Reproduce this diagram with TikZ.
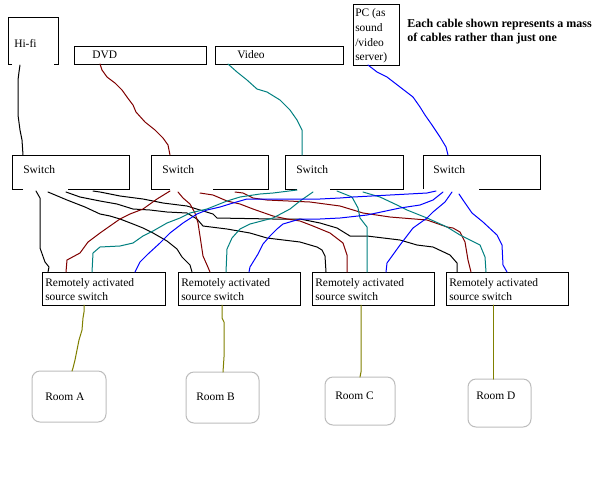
\documentclass[tikz,border=0pt]{standalone}
\usepackage{fontspec}
\setmainfont{Liberation Serif}
\usetikzlibrary{calc}
\definecolor{dred}{HTML}{800000}
\definecolor{dteal}{HTML}{008080}
\definecolor{dblue}{HTML}{0000FF}
\definecolor{olivec}{HTML}{808000}
\definecolor{roomgray}{HTML}{BDBDBD}
\begin{document}
\begin{tikzpicture}[x=0.75pt,y=-0.75pt,
  box/.style={draw, line width=0.75pt, inner sep=0pt, outer sep=0pt, anchor=north west},
  openbox/.style={inner sep=0pt, outer sep=0pt, anchor=north west},
  outline/.style={line width=0.75pt, line join=miter},
  room/.style={draw=roomgray, line width=0.75pt, rounded corners=6pt, inner sep=0pt, outer sep=0pt, anchor=north west},
  lbl/.style={inner sep=0pt, anchor=west, font=\fontsize{8.6pt}{10.5pt}\selectfont, align=left},
  cable/.style={line width=0.75pt, line join=round, line cap=round},
  blk/.style={cable, black},
  red/.style={cable, dred},
  tl/.style={cable, dteal},
  bl/.style={cable, dblue},
  ol/.style={cable, olivec}]
\useasboundingbox[fill=white] (0,0) rectangle (600,480);

% sources
\node[openbox, minimum width={50*0.75pt}, minimum height={47*0.75pt}] (hifi) at (8,17) {};
\node[box, minimum width={132*0.75pt}, minimum height={18*0.75pt}] (dvd) at (74,46) {};
\node[box, minimum width={128*0.75pt}, minimum height={18*0.75pt}] (video) at (215,46) {};
\node[box, minimum width={46*0.75pt}, minimum height={61*0.75pt}] (pc) at (353,4) {};
\draw[outline] ([xshift=3pt]hifi.south west) -- (hifi.south west) -- (hifi.north west) -- (hifi.north east) -- (hifi.south east) -- ([xshift=-3pt]hifi.south east);

\node[lbl] (thifi) at (14,43) {Hi-fi};
\node[lbl] (tdvd) at (92,55) {DVD};
\node[lbl] (tvideo) at (237,55) {Video};
\node[lbl, font=\fontsize{8.6pt}{11pt}\selectfont] (tpc) at (355,36) {PC (as\\sound\\/video\\server)};
\node[inner sep=0pt, anchor=west, align=left, font=\fontsize{9pt}{10.5pt}\selectfont\bfseries] (note) at (407,32) {Each cable shown represents a mass\\of cables rather than just one};

% switches
\node[openbox, minimum width={117*0.75pt}, minimum height={34*0.75pt}] (sw1) at (12,155) {};
\node[openbox, minimum width={117*0.75pt}, minimum height={34*0.75pt}] (sw2) at (151,155) {};
\node[openbox, minimum width={118*0.75pt}, minimum height={34*0.75pt}] (sw3) at (285,155) {};
\node[openbox, minimum width={117*0.75pt}, minimum height={34*0.75pt}] (sw4) at (423,155) {};
\draw[outline] ([xshift=8.25pt]sw1.south west) -- (sw1.south west) -- (sw1.north west) -- (sw1.north east) -- (sw1.south east) -- ([xshift=-45.75pt]sw1.south east);
\draw[outline] ([xshift=14.25pt]sw2.south west) -- (sw2.south west) -- (sw2.north west) -- (sw2.north east) -- (sw2.south east) -- ([xshift=-41.25pt]sw2.south east);
\draw[outline] ([xshift=9pt]sw3.south west) -- (sw3.south west) -- (sw3.north west) -- (sw3.north east) -- (sw3.south east) -- ([xshift=-54.75pt]sw3.south east);
\draw[outline] (sw4.south west) -- (sw4.north west) -- (sw4.north east) -- (sw4.south east) -- ([xshift=-45.75pt]sw4.south east);
\node[lbl] (tsw1) at (23,170) {Switch};
\node[lbl] (tsw2) at (162,170) {Switch};
\node[lbl] (tsw3) at (296,170) {Switch};
\node[lbl] (tsw4) at (433,170) {Switch};

% remote switches
\node[box, minimum width={123*0.75pt}, minimum height={33*0.75pt}] (r1) at (42,272) {};
\node[box, minimum width={122*0.75pt}, minimum height={33*0.75pt}] (r2) at (178,272) {};
\node[box, minimum width={122*0.75pt}, minimum height={33*0.75pt}] (r3) at (312,272) {};
\node[box, minimum width={122*0.75pt}, minimum height={33*0.75pt}] (r4) at (446,272) {};
\node[lbl] (tr1) at (45,290) {Remotely activated\\source switch};
\node[lbl] (tr2) at (181,290) {Remotely activated\\source switch};
\node[lbl] (tr3) at (315,290) {Remotely activated\\source switch};
\node[lbl] (tr4) at (449,290) {Remotely activated\\source switch};

% rooms
\node[room, minimum width={74*0.75pt}, minimum height={51*0.75pt}] (ra) at (32,371) {};
\node[room, minimum width={73*0.75pt}, minimum height={51*0.75pt}] (rb) at (186,372) {};
\node[room, minimum width={70*0.75pt}, minimum height={48*0.75pt}] (rc) at (325,377) {};
\node[room, minimum width={63*0.75pt}, minimum height={48*0.75pt}] (rd) at (468,379) {};
\node[lbl] (tra) at (45,397) {Room A};
\node[lbl] (trb) at (196,397) {Room B};
\node[lbl] (trc) at (335,396) {Room C};
\node[lbl] (trd) at (476,396) {Room D};

% sources to switches
\draw[blk] ($(hifi.south west)+(12,1)$) -- (19,72) -- (18,80) -- (18,115) -- (20,130) -- (22,140) -- ($(sw1.north west)+(11,0)$);
\draw[red] ($(dvd.south west)+(26,0)$) -- (102,70) -- (107,77) -- (115,83) -- (122,90) -- (127,97) -- (133,105) -- (136,112) -- (145,122) -- (155,130) -- (163,138) -- (168,145) -- ($(sw2.north west)+(19,0)$);
\draw[tl] ($(video.south west)+(13,0)$) -- (237,72) -- (247,80) -- (257,89) -- (267,92) -- (280,100) -- (290,110) -- (297,120) -- (302,130) -- ($(sw3.north west)+(17,0)$);
\draw[bl] ($(pc.south west)+(15,0)$) -- (377,72) -- (387,77) -- (400,87) -- (413,97) -- (420,107) -- (425,115) -- (432,125) -- (440,137) -- (446,147) -- ($(sw4.north west)+(25,0)$);

% switch 1 (black)
\draw[blk] ($(sw1.south west)+(24,2)$) -- (40,198) -- (40,248) -- (45,262) -- (49,267) -- ($(r1.north west)+(6,0)$);
\draw[blk] ($(sw1.south west)+(36,3)$) -- (67,200) -- (85,207) -- (100,214) -- (110,216) -- (120,219) -- (133,224) -- (143,228) -- (153,233) -- (167,241) -- (177,249) -- (182,257) -- (190,265) -- ($(r2.north west)+(14,0)$);
\draw[blk] ($(sw1.south west)+(54,3)$) -- (80,197) -- (100,201) -- (117,204) -- (133,209) -- (150,210) -- (167,212) -- (187,213) -- (197,219) -- (203,226) -- (227,229) -- (250,233) -- (267,238) -- (300,242) -- (317,247) -- (322,250) -- (325,256) -- ($(r3.north west)+(14,0)$);
\draw[blk] ($(sw1.south west)+(81,2)$) -- (100,192) -- (120,196) -- (143,199) -- (163,203) -- (187,206) -- (213,214) -- (217,218) -- (273,219) -- (300,219) -- (320,223) -- (337,228) -- (350,236) -- (367,236) -- (400,240) -- (417,245) -- (433,247) -- (450,255) -- (457,263) -- ($(r4.north west)+(11,0)$);

% switch 2 (dark red)
\draw[red] ($(sw2.south west)+(19,2)$) -- (157,199) -- (143,209) -- (130,214) -- (120,219) -- (110,226) -- (100,233) -- (88,242) -- (80,253) -- (67,260) -- ($(r1.north west)+(24,0)$);
\draw[red] ($(sw2.south west)+(27,3)$) -- (183,198) -- (190,204) -- (195,213) -- (198,223) -- (200,236) -- (203,256) -- (207,265) -- ($(r2.north west)+(32,0)$);
\draw[red] ($(sw2.south west)+(49,4)$) -- (213,195) -- (227,201) -- (240,204) -- (253,209) -- (273,216) -- (287,219) -- (300,221) -- (313,226) -- (330,233) -- (343,243) -- (347,255) -- ($(r3.north west)+(35,0)$);
\draw[red] ($(sw2.south west)+(84,3)$) -- (243,193) -- (253,198) -- (267,200) -- (310,202) -- (340,206) -- (363,213) -- (390,217) -- (427,220) -- (447,227) -- (453,228) -- (460,232) -- (465,242) -- (468,260) -- ($(r4.north west)+(25,0)$);

% switch 3 (teal)
\draw[tl] ($(sw3.south west)+(12,1)$) -- (273,193) -- (260,194) -- (240,197) -- (227,201) -- (207,209) -- (190,213) -- (180,218) -- (167,223) -- (153,231) -- (143,236) -- (133,243) -- (120,246) -- (100,247) -- (93,253) -- ($(r1.north west)+(50,0)$);
\draw[tl] ($(sw3.south west)+(28,3)$) -- (300,201) -- (290,209) -- (273,218) -- (250,224) -- (240,229) -- (232,238) -- (227,249) -- ($(r2.north west)+(48,0)$);
\draw[tl] ($(sw3.south west)+(52,2)$) -- (352,197) -- (358,208) -- (360,218) -- (367,227) -- ($(r3.north west)+(55,0)$);
\draw[tl] ($(sw3.south west)+(78,3)$) -- (380,197) -- (397,205) -- (407,210) -- (427,218) -- (447,227) -- (460,235) -- (480,245) -- (485,257) -- ($(r4.north west)+(40,0)$);

% switch 4 (blue)
\draw[bl] ($(sw4.south west)+(13,2)$) -- (427,193) -- (353,197) -- (340,198) -- (320,199) -- (247,199) -- (233,203) -- (220,207) -- (207,210) -- (197,214) -- (183,223) -- (170,233) -- (160,243) -- (148,254) -- (140,262) -- ($(r1.north west)+(93,0)$);
\draw[bl] ($(sw4.south west)+(20,3)$) -- (433,200) -- (420,205) -- (400,208) -- (367,215) -- (340,218) -- (320,219) -- (300,219) -- (283,224) -- (277,229) -- (270,236) -- (263,244) -- (258,254) -- (250,267) -- ($(r2.north west)+(71,0)$);
\draw[bl] ($(sw4.south west)+(29,3)$) -- (445,202) -- (433,212) -- (427,218) -- (413,228) -- (400,245) -- (387,263) -- ($(r3.north west)+(74,0)$);
\draw[bl] ($(sw4.south west)+(36,5)$) -- (463,200) -- (472,213) -- (483,222) -- (497,235) -- (502,245) -- (503,265) -- ($(r4.north west)+(61,0)$);

% remote switches to rooms
\draw[ol] ($(r1.south west)+(42,0)$) -- (84,312) -- (83,318) -- (82,330) -- (79,340) -- (77,350) -- (75,360) -- (73,368) -- ($(ra.north west)+(40,0)$);
\draw[ol] ($(r2.south west)+(44,0)$) -- (222,318) -- (224,322) -- (224,357) -- ($(rb.north west)+(37,0)$);
\draw[ol] ($(r3.south west)+(49,0)$) -- (361,372) -- ($(rc.north west)+(35,0)$);
\draw[ol] ($(r4.south west)+(47,0)$) -- ($(rd.north west)+(25,0)$);
\end{tikzpicture}
\end{document}
